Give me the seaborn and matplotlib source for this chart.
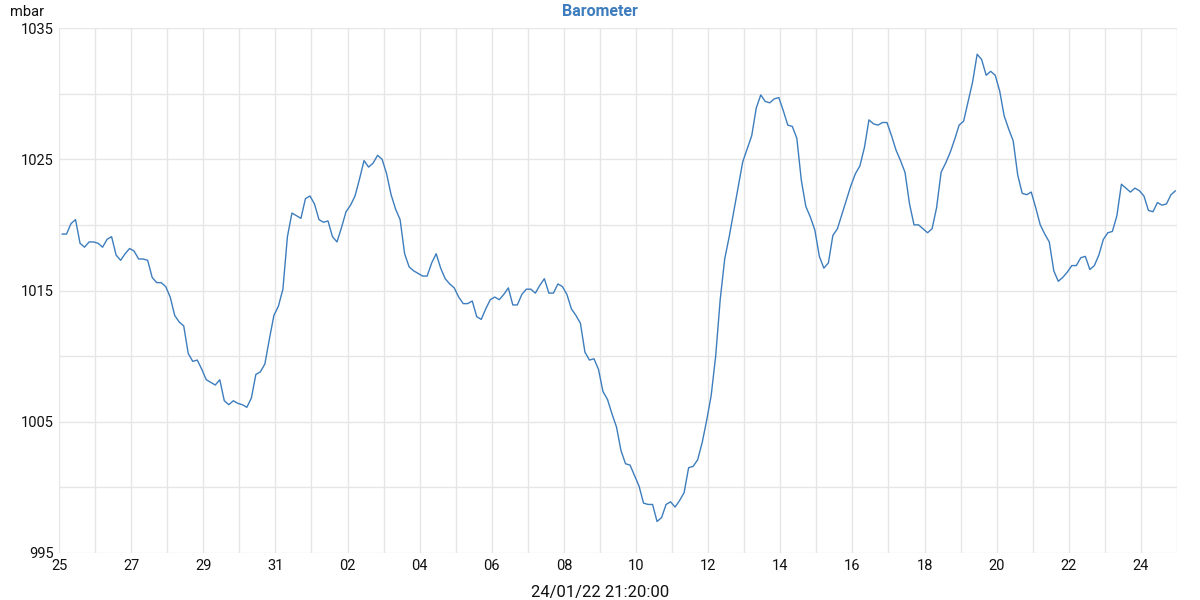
import pandas as pd
import matplotlib.pyplot as plt
import matplotlib.dates as mdates
import seaborn as sns

# barometer readings, one every 3 hours (mbar)
pressure = [
    1019.3, 1019.3, 1020.1, 1020.4, 1018.6, 1018.3, 1018.7, 1018.7,
    1018.6, 1018.3, 1018.9, 1019.1, 1017.7, 1017.3, 1017.8, 1018.2,
    1018.0, 1017.4, 1017.4, 1017.3, 1016.0, 1015.6, 1015.6, 1015.3,
    1014.5, 1013.1, 1012.6, 1012.3, 1010.2, 1009.6, 1009.7, 1009.0,
    1008.2, 1008.0, 1007.8, 1008.2, 1006.6, 1006.3, 1006.6, 1006.4,
    1006.3, 1006.1, 1006.8, 1008.6, 1008.8, 1009.4, 1011.3, 1013.1,
    1013.8, 1015.1, 1019.1, 1020.9, 1020.7, 1020.5, 1022.0, 1022.2,
    1021.6, 1020.4, 1020.2, 1020.3, 1019.1, 1018.7, 1019.8, 1021.0,
    1021.5, 1022.2, 1023.5, 1024.9, 1024.4, 1024.7, 1025.3, 1025.0,
    1023.9, 1022.3, 1021.2, 1020.4, 1017.8, 1016.8, 1016.5, 1016.3,
    1016.1, 1016.1, 1017.1, 1017.8, 1016.7, 1015.9, 1015.5, 1015.2,
    1014.5, 1014.0, 1014.0, 1014.2, 1013.0, 1012.8, 1013.6, 1014.3,
    1014.5, 1014.3, 1014.7, 1015.2, 1013.9, 1013.9, 1014.7, 1015.1,
    1015.1, 1014.8, 1015.4, 1015.9, 1014.8, 1014.8, 1015.5, 1015.3,
    1014.7, 1013.6, 1013.1, 1012.5, 1010.3, 1009.7, 1009.8, 1009.0,
    1007.3, 1006.7, 1005.6, 1004.6, 1002.8, 1001.8, 1001.7, 1000.9,
    1000.1, 998.8, 998.7, 998.7, 997.4, 997.7, 998.7, 998.9,
    998.5, 999.0, 999.6, 1001.5, 1001.6, 1002.1, 1003.4, 1005.1,
    1007.0, 1010.0, 1014.3, 1017.4, 1019.1, 1021.0, 1022.9, 1024.8,
    1025.8, 1026.8, 1028.9, 1029.9, 1029.4, 1029.3, 1029.6, 1029.7,
    1028.7, 1027.6, 1027.5, 1026.6, 1023.4, 1021.4, 1020.6, 1019.6,
    1017.6, 1016.7, 1017.1, 1019.2, 1019.7, 1020.8, 1021.9, 1023.0,
    1023.9, 1024.5, 1025.9, 1028.0, 1027.7, 1027.6, 1027.8, 1027.8,
    1026.8, 1025.7, 1024.9, 1024.0, 1021.6, 1020.0, 1020.0, 1019.7,
    1019.4, 1019.7, 1021.3, 1024.0, 1024.7, 1025.5, 1026.5, 1027.6,
    1027.9, 1029.4, 1030.9, 1033.0, 1032.6, 1031.4, 1031.7, 1031.4,
    1030.2, 1028.3, 1027.3, 1026.4, 1023.8, 1022.4, 1022.3, 1022.5,
    1021.3, 1020.0, 1019.3, 1018.7, 1016.5, 1015.7, 1016.0, 1016.4,
    1016.9, 1016.9, 1017.5, 1017.6, 1016.6, 1016.9, 1017.7, 1018.9,
    1019.4, 1019.5, 1020.7, 1023.1, 1022.8, 1022.5, 1022.8, 1022.6,
    1022.2, 1021.1, 1021.0, 1021.7, 1021.5, 1021.6, 1022.3, 1022.6,
]
times = pd.date_range('2021-12-25 02:00', periods=len(pressure), freq='3h')
y_ticks = [995, 1005, 1015, 1025, 1035]
x_ticks = pd.date_range('2021-12-25', '2022-01-24', freq='2D')

df = pd.DataFrame({'time': times, 'pressure': pressure})

sns.set_style('white')
plt.rcParams['font.family'] = ['Roboto', 'DejaVu Sans']

fig = plt.figure(figsize=(12, 6), dpi=100)
ax = fig.add_axes([59 / 1200, 1 - 553 / 600, (1177 - 59) / 1200, (553 - 28) / 600])

sns.lineplot(data=df, x='time', y='pressure', ax=ax, color='#3d7dbd', linewidth=1)

ax.set_xlim(pd.Timestamp('2021-12-25'), pd.Timestamp('2022-01-25'))
ax.set_ylim(995, 1035)
ax.set_xticks(x_ticks)
ax.xaxis.set_major_formatter(mdates.DateFormatter('%d'))
ax.xaxis.set_minor_locator(mdates.DayLocator())
ax.set_yticks(y_ticks)
ax.set_yticks(range(995, 1036, 5), minor=True)
ax.grid(True, which='both', color='#e6e6e6', linewidth=1)
ax.set_axisbelow(True)
for s in ax.spines.values():
    s.set_visible(False)
ax.tick_params(which='both', length=0, labelsize=10.5, colors='#111111', pad=4)

ax.set_xlabel('')
ax.set_ylabel('')
# title and date line are centred on the whole figure, not on the axes
fig.text(0.5, 1 - 12 / 600, 'Barometer', fontsize=11.5, fontweight='bold',
         color='#3d7dbd', ha='center', va='center')
fig.text(0.5, 1 - 593 / 600, '24/01/22 21:20:00', fontsize=12,
         color='#111111', ha='center', va='center')
fig.text(10 / 1200, 1 - 12 / 600, 'mbar', fontsize=10.5, va='center', color='#111111')

fig.savefig('out.png', dpi=100)
